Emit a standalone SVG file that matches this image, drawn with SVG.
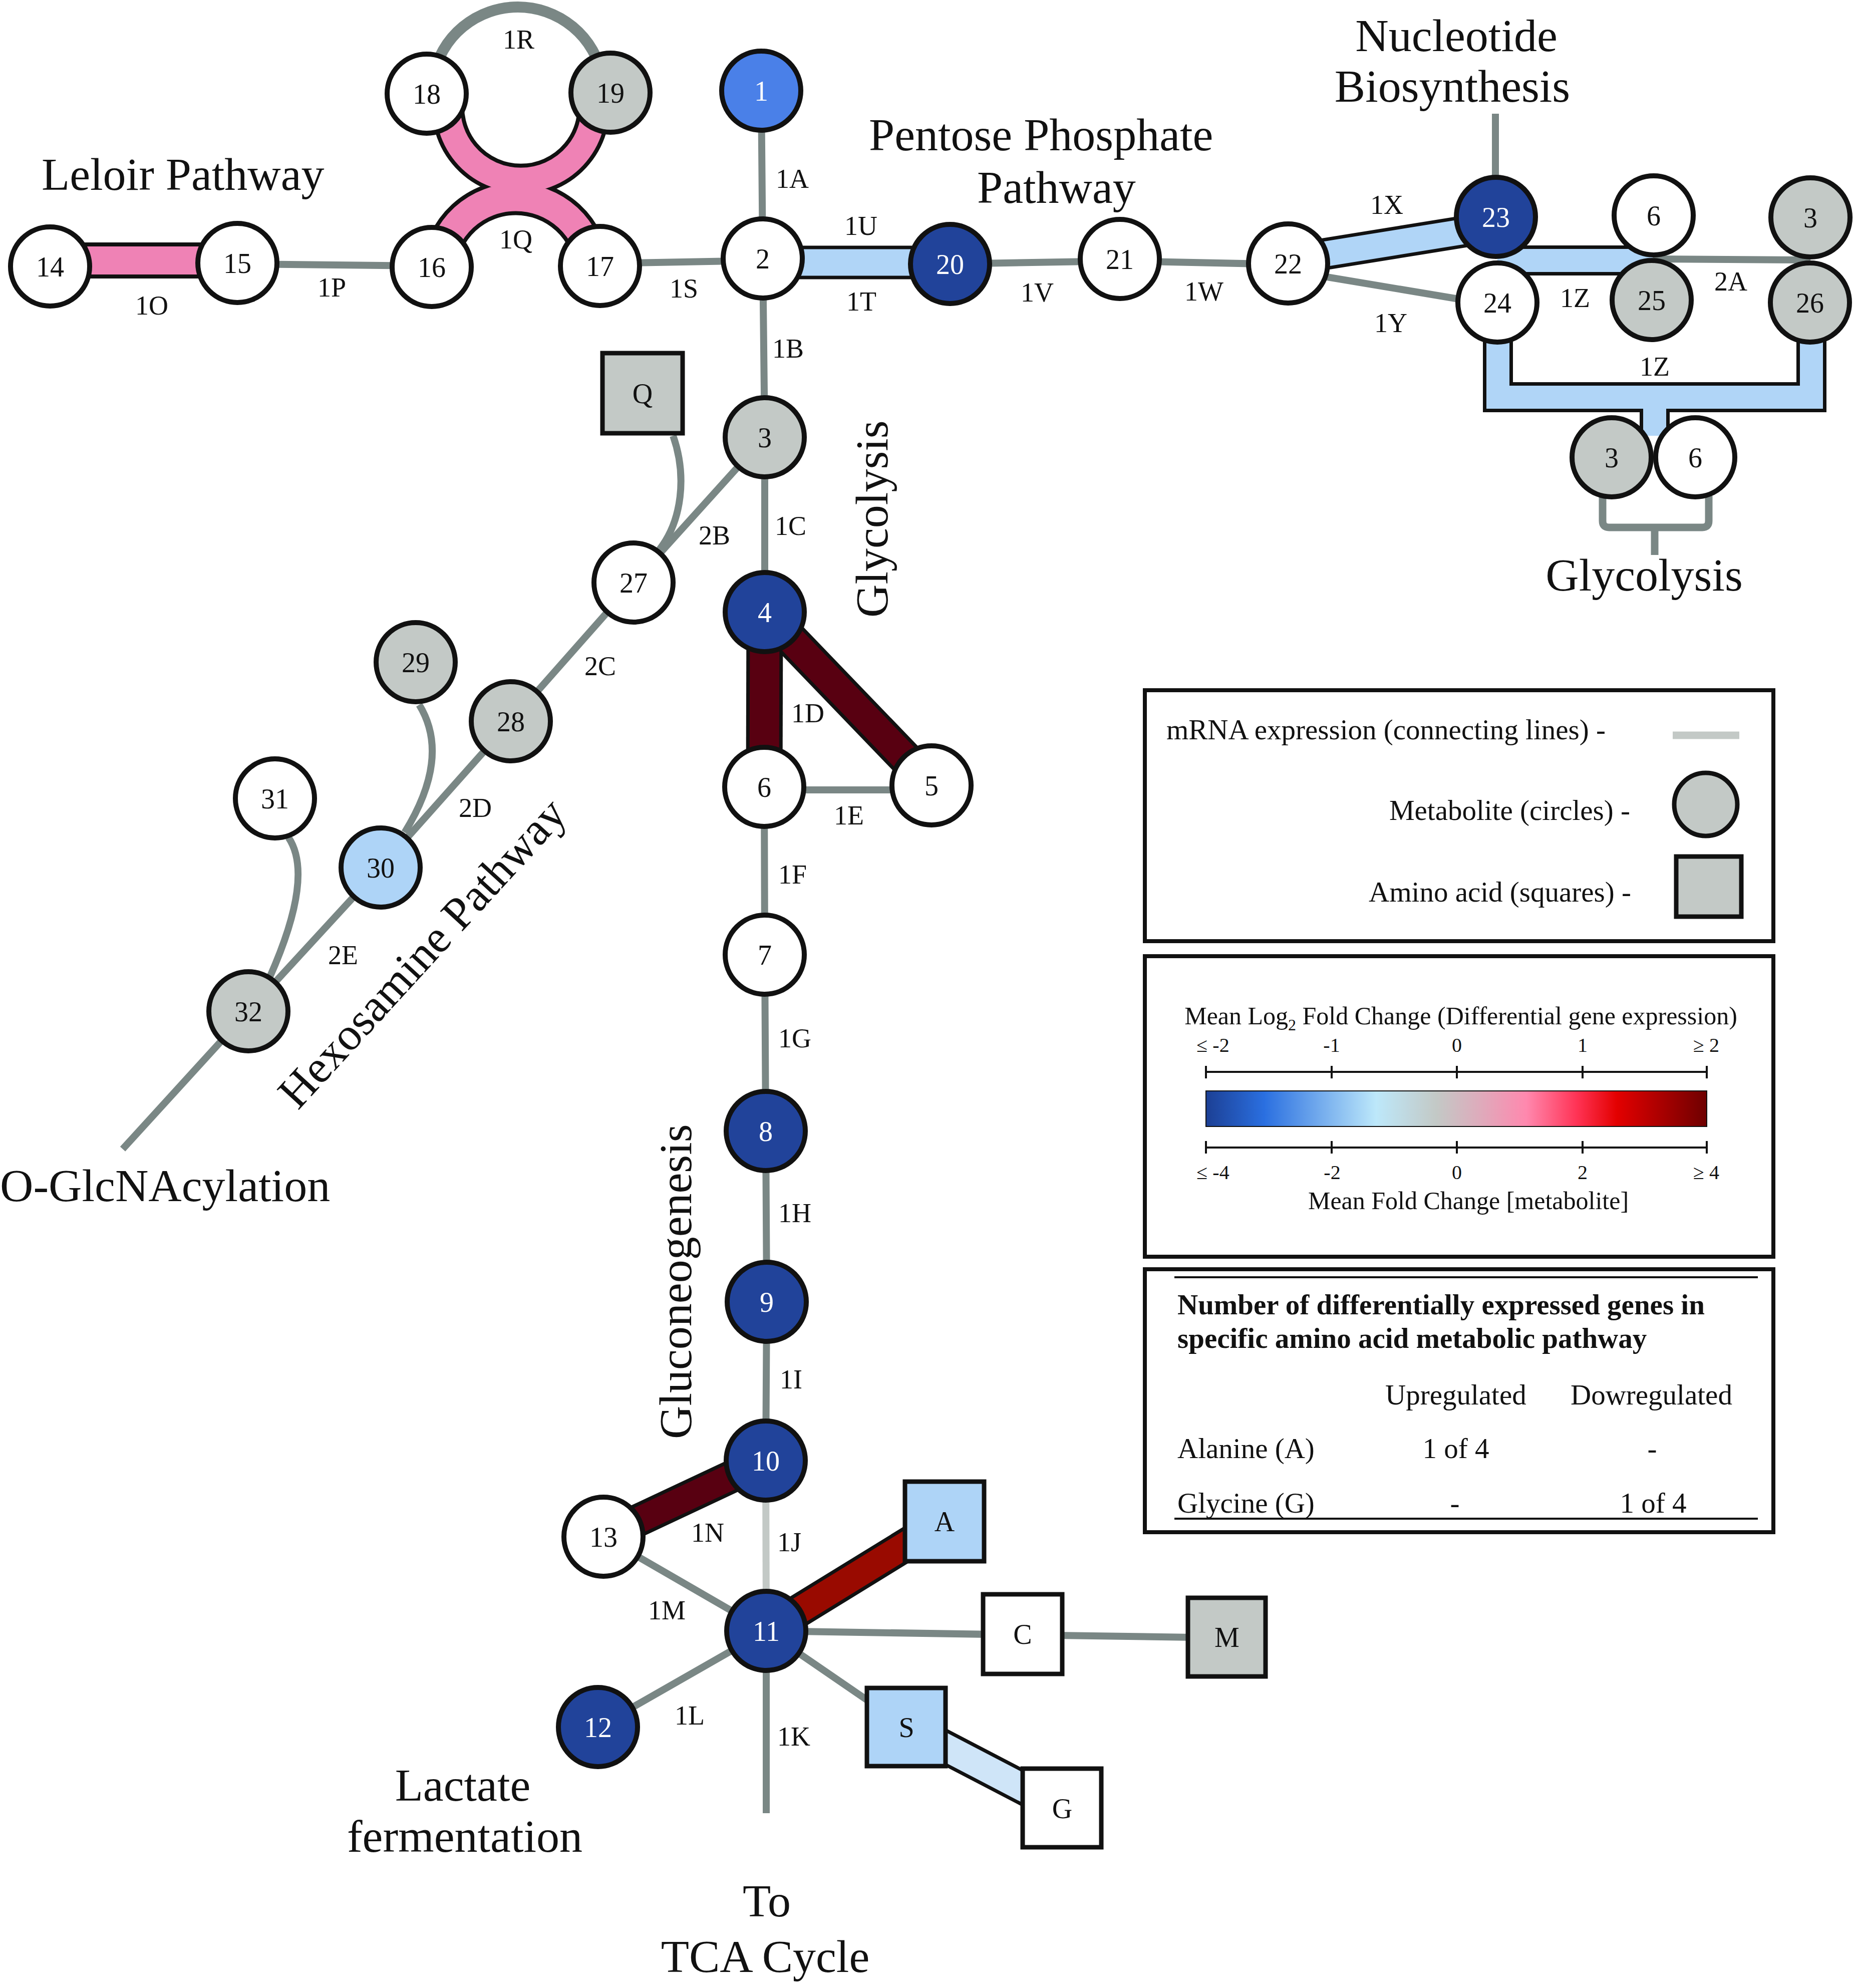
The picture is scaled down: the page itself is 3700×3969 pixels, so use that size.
<svg xmlns="http://www.w3.org/2000/svg" width="3700" height="3969" viewBox="0 0 3700 3969">
<defs>
<style>
text{font-family:"Liberation Serif","Times New Roman",serif;fill:#111}
.t{font-size:92px}
.lb{font-size:54px}
.nt{font-size:56px;text-anchor:middle}
.w{fill:#fff}
.lg{font-size:57px}
.tk{font-size:40px;text-anchor:middle}
.n{stroke:#111;stroke-width:10}
.sq{stroke:#111;stroke-width:9}
.wh{fill:#fff}.gy{fill:#c3c9c6}.db{fill:#21439a}.mb{fill:#4a80e8}.lbu{fill:#aed4f7}
.ln{stroke:#7a8785;stroke-width:14;fill:none}
.lt{stroke:#c3c9c6;stroke-width:14;fill:none}
.bk{stroke:#111;fill:none}
.box{fill:none;stroke:#111;stroke-width:8}
</style>
<linearGradient id="grad" x1="0" y1="0" x2="1" y2="0">
<stop offset="0" stop-color="#1c3f94"/>
<stop offset="0.116" stop-color="#2a6fe0"/>
<stop offset="0.34" stop-color="#bde8fa"/>
<stop offset="0.46" stop-color="#c3c9c6"/>
<stop offset="0.55" stop-color="#dfaabb"/>
<stop offset="0.64" stop-color="#ff88ae"/>
<stop offset="0.74" stop-color="#ff3355"/>
<stop offset="0.82" stop-color="#e30000"/>
<stop offset="1" stop-color="#6e0000"/>
</linearGradient>
</defs>
<rect width="3700" height="3969" fill="#fff"/>

<g id="connectors">
<!-- gray lines -->
<path class="ln" d="M1520 181 L1523 516 L1527 873 L1527 1222"/>
<path class="ln" d="M1526 1571 L1527 1906 L1529 2258 L1531 2599 L1529 2916"/>
<path class="lt" d="M1529 2916 L1530 3256"/>
<path class="ln" d="M1530 3256 L1530 3620"/>
<path class="ln" d="M1526 1577 L1860 1577"/>
<path class="ln" d="M474 527 L862 531"/>
<path class="ln" d="M1198 526 L1523 520"/>
<path class="ln" d="M1897 527 L2236 521 L2572 528"/>
<path class="ln" d="M2572 540 L2990 610"/>
<path class="ln" d="M2986 433 L2986 227"/>
<path class="ln" d="M3300 517 L3615 519"/>
<path class="ln" style="stroke-width:15" d="M3200 990 V1040 Q3200 1053 3213 1053 H3399 Q3412 1053 3412 1040 V990 M3304 1053 V1108"/>
<path class="ln" style="stroke-width:22" d="M865 154 A172 172 0 0 1 1203 154"/>
<path class="ln" d="M1527 873 L1265 1163 L1020 1440 L760 1732 L496 2019 L245 2294"/>
<path class="ln" d="M1344 870 C1372 950 1362 1040 1316 1098"/>
<path class="ln" d="M837 1407 Q901 1511 808 1662"/>
<path class="ln" d="M576 1672 Q628 1749 539 1950"/>
<path class="ln" d="M1530 3256 L1205 3068"/>
<path class="ln" d="M1530 3256 L1194 3448"/>
<path class="ln" d="M1530 3256 L2042 3264 L2450 3270"/>
<path class="ln" d="M1530 3256 L1810 3448"/>
<!-- bands: black outlines -->
<path class="bk" stroke-width="72" d="M100 520 L474 520"/>
<path class="bk" stroke-width="67" d="M1523 524 L1897 524"/>
<path class="bk" stroke-width="64" d="M2572 519 L2987 452"/>
<path class="bk" stroke-width="60" d="M2990 520 L3300 520"/>
<path class="bk" stroke-width="60" d="M2991 650 V793 H3617 V650 M3304 793 V870"/>
<path class="bk" stroke-width="73" d="M1527 1222 L1526 1571"/>
<path class="bk" stroke-width="70" d="M1527 1222 L1860 1568"/>
<path class="bk" stroke-width="66" d="M1529 2916 L1205 3068"/>
<path class="bk" stroke-width="67" d="M1530 3256 L1886 3037"/>
<path class="bk" stroke-width="68" d="M1810 3448 L2121 3610"/>
<path class="bk" stroke-width="65" d="M897 187 A145.5 145.5 0 1 0 1183 187"/>
<path class="bk" stroke-width="71" d="M877 535 A153.5 153.5 0 0 1 1183 535"/>
<!-- bands: fills -->
<path stroke="#ef82b5" fill="none" stroke-width="56" d="M100 520 L474 520"/>
<path stroke="#b0d5f7" fill="none" stroke-width="53" d="M1523 524 L1897 524"/>
<path stroke="#b0d5f7" fill="none" stroke-width="50" d="M2572 519 L2987 452"/>
<path stroke="#b0d5f7" fill="none" stroke-width="46" d="M2990 520 L3300 520"/>
<path stroke="#b0d5f7" fill="none" stroke-width="46" d="M2991 650 V793 H3617 V650 M3304 793 V870"/>
<path stroke="#580011" fill="none" stroke-width="59" d="M1527 1222 L1526 1571"/>
<path stroke="#580011" fill="none" stroke-width="56" d="M1527 1222 L1860 1568"/>
<path stroke="#580011" fill="none" stroke-width="52" d="M1529 2916 L1205 3068"/>
<path stroke="#990a00" fill="none" stroke-width="53" d="M1530 3256 L1886 3037"/>
<path stroke="#cfe5f8" fill="none" stroke-width="54" d="M1810 3448 L2121 3610"/>
<path stroke="#ef82b5" fill="none" stroke-width="49" d="M897 187 A145.5 145.5 0 1 0 1183 187"/>
<path stroke="#ef82b5" fill="none" stroke-width="55" d="M877 535 A153.5 153.5 0 0 1 1183 535"/>
</g>

<g id="edge-labels" class="lb">
<text x="270" y="628">1O</text>
<text x="634" y="592">1P</text>
<text x="997" y="496">1Q</text>
<text x="1004" y="97">1R</text>
<text x="1337" y="594">1S</text>
<text x="1549" y="375">1A</text>
<text x="1686" y="469">1U</text>
<text x="1690" y="620">1T</text>
<text x="2038" y="602">1V</text>
<text x="2365" y="600">1W</text>
<text x="2736" y="427">1X</text>
<text x="2744" y="663">1Y</text>
<text x="3115" y="613">1Z</text>
<text x="3423" y="580">2A</text>
<text x="3274" y="750">1Z</text>
<text x="1542" y="714">1B</text>
<text x="1547" y="1068">1C</text>
<text x="1395" y="1087">2B</text>
<text x="1167" y="1348">2C</text>
<text x="1580" y="1442">1D</text>
<text x="1665" y="1646">1E</text>
<text x="916" y="1631">2D</text>
<text x="655" y="1925">2E</text>
<text x="1554" y="1764">1F</text>
<text x="1554" y="2091">1G</text>
<text x="1554" y="2440">1H</text>
<text x="1557" y="2772">1I</text>
<text x="1380" y="3078">1N</text>
<text x="1552" y="3097">1J</text>
<text x="1294" y="3233">1M</text>
<text x="1347" y="3443">1L</text>
<text x="1552" y="3485">1K</text>
</g>

<g id="n14"><circle class="n wh" cx="100" cy="532" r="79"/><text class="nt" x="100" y="552">14</text></g>
<g id="n15"><circle class="n wh" cx="474" cy="525" r="79"/><text class="nt" x="474" y="545">15</text></g>
<g id="n16"><circle class="n wh" cx="862" cy="533" r="79"/><text class="nt" x="862" y="553">16</text></g>
<g id="n17"><circle class="n wh" cx="1198" cy="531" r="79"/><text class="nt" x="1198" y="551">17</text></g>
<g id="n18"><circle class="n wh" cx="852" cy="187" r="79"/><text class="nt" x="852" y="207">18</text></g>
<g id="n19"><circle class="n gy" cx="1219" cy="185" r="79"/><text class="nt" x="1219" y="205">19</text></g>
<g id="n1"><circle class="n mb" cx="1520" cy="181" r="79"/><text class="nt w" x="1520" y="201">1</text></g>
<g id="n2"><circle class="n wh" cx="1523" cy="516" r="79"/><text class="nt" x="1523" y="536">2</text></g>
<g id="n20"><circle class="n db" cx="1897" cy="527" r="79"/><text class="nt w" x="1897" y="547">20</text></g>
<g id="n21"><circle class="n wh" cx="2236" cy="517" r="79"/><text class="nt" x="2236" y="537">21</text></g>
<g id="n22"><circle class="n wh" cx="2572" cy="526" r="79"/><text class="nt" x="2572" y="546">22</text></g>
<g id="n23"><circle class="n db" cx="2987" cy="433" r="79"/><text class="nt w" x="2987" y="453">23</text></g>
<g id="n24"><circle class="n wh" cx="2990" cy="604" r="79"/><text class="nt" x="2990" y="624">24</text></g>
<g id="n6a"><circle class="n wh" cx="3302" cy="430" r="79"/><text class="nt" x="3302" y="450">6</text></g>
<g id="n25"><circle class="n gy" cx="3298" cy="599" r="79"/><text class="nt" x="3298" y="619">25</text></g>
<g id="n3a"><circle class="n gy" cx="3615" cy="434" r="79"/><text class="nt" x="3615" y="454">3</text></g>
<g id="n26"><circle class="n gy" cx="3614" cy="604" r="79"/><text class="nt" x="3614" y="624">26</text></g>
<g id="n3b"><circle class="n gy" cx="3218" cy="913" r="79"/><text class="nt" x="3218" y="933">3</text></g>
<g id="n6b"><circle class="n wh" cx="3385" cy="913" r="79"/><text class="nt" x="3385" y="933">6</text></g>
<g id="n3"><circle class="n gy" cx="1527" cy="873" r="79"/><text class="nt" x="1527" y="893">3</text></g>
<g id="nQ"><rect class="sq gy" x="1203" y="705" width="160" height="160"/><text class="nt" x="1283" y="805">Q</text></g>
<g id="n27"><circle class="n wh" cx="1265" cy="1163" r="79"/><text class="nt" x="1265" y="1183">27</text></g>
<g id="n4"><circle class="n db" cx="1527" cy="1222" r="79"/><text class="nt w" x="1527" y="1242">4</text></g>
<g id="n6"><circle class="n wh" cx="1526" cy="1571" r="79"/><text class="nt" x="1526" y="1591">6</text></g>
<g id="n5"><circle class="n wh" cx="1860" cy="1568" r="79"/><text class="nt" x="1860" y="1588">5</text></g>
<g id="n7"><circle class="n wh" cx="1527" cy="1906" r="79"/><text class="nt" x="1527" y="1926">7</text></g>
<g id="n8"><circle class="n db" cx="1529" cy="2258" r="79"/><text class="nt w" x="1529" y="2278">8</text></g>
<g id="n9"><circle class="n db" cx="1531" cy="2599" r="79"/><text class="nt w" x="1531" y="2619">9</text></g>
<g id="n10"><circle class="n db" cx="1529" cy="2916" r="79"/><text class="nt w" x="1529" y="2936">10</text></g>
<g id="n13"><circle class="n wh" cx="1205" cy="3068" r="79"/><text class="nt" x="1205" y="3088">13</text></g>
<g id="n11"><circle class="n db" cx="1530" cy="3256" r="79"/><text class="nt w" x="1530" y="3276">11</text></g>
<g id="n12"><circle class="n db" cx="1194" cy="3448" r="79"/><text class="nt w" x="1194" y="3468">12</text></g>
<g id="nA"><rect class="sq lbu" x="1807" y="2958" width="158" height="159"/><text class="nt" x="1886" y="3057">A</text></g>
<g id="nC"><rect class="sq wh" x="1963" y="3183" width="158" height="159"/><text class="nt" x="2042" y="3282">C</text></g>
<g id="nM"><rect class="sq gy" x="2372" y="3190" width="155" height="157"/><text class="nt" x="2450" y="3288">M</text></g>
<g id="nS"><rect class="sq lbu" x="1731" y="3370" width="157" height="156"/><text class="nt" x="1810" y="3468">S</text></g>
<g id="nG"><rect class="sq wh" x="2042" y="3531" width="157" height="157"/><text class="nt" x="2121" y="3630">G</text></g>
<g id="n28"><circle class="n gy" cx="1020" cy="1440" r="79"/><text class="nt" x="1020" y="1460">28</text></g>
<g id="n29"><circle class="n gy" cx="830" cy="1322" r="79"/><text class="nt" x="830" y="1342">29</text></g>
<g id="n30"><circle class="n lbu" cx="760" cy="1732" r="79"/><text class="nt" x="760" y="1752">30</text></g>
<g id="n31"><circle class="n wh" cx="549" cy="1594" r="79"/><text class="nt" x="549" y="1614">31</text></g>
<g id="n32"><circle class="n gy" cx="496" cy="2019" r="79"/><text class="nt" x="496" y="2039">32</text></g>

<g id="titles" class="t">
<text x="83" y="379">Leloir Pathway</text>
<text x="1735" y="300">Pentose Phosphate</text>
<text x="1951" y="405">Pathway</text>
<text x="2908" y="102" text-anchor="middle">Nucleotide</text>
<text x="2900" y="203" text-anchor="middle">Biosynthesis</text>
<text x="3283" y="1179" text-anchor="middle">Glycolysis</text>
<text transform="translate(1772 1233) rotate(-90)">Glycolysis</text>
<text transform="translate(1380 2873) rotate(-90)">Gluconeogenesis</text>
<text transform="translate(595 2218) rotate(-47.5)">Hexosamine Pathway</text>
<text x="0" y="2398">O-GlcNAcylation</text>
<text x="924" y="3595" text-anchor="middle">Lactate</text>
<text x="928" y="3697" text-anchor="middle">fermentation</text>
<text x="1531" y="3826" text-anchor="middle">To</text>
<text x="1528" y="3937" text-anchor="middle">TCA Cycle</text>
</g>

<g id="legend-symbols">
<rect class="box" x="2286" y="1378" width="1255" height="501"/>
<text class="lg" x="2329" y="1476">mRNA expression (connecting lines) -</text>
<line x1="3340" y1="1468" x2="3473" y2="1468" stroke="#c3c9c6" stroke-width="15"/>
<text class="lg" x="3255" y="1637" text-anchor="end">Metabolite (circles) -</text>
<circle class="gy" cx="3406" cy="1606" r="63" stroke="#111" stroke-width="9"/>
<text class="lg" x="3257" y="1800" text-anchor="end">Amino acid (squares) -</text>
<rect class="gy" x="3347" y="1710" width="130" height="120" stroke="#111" stroke-width="9"/>
</g>

<g id="legend-scale">
<rect class="box" x="2286" y="1909" width="1255" height="600"/>
<text x="2917" y="2045" text-anchor="middle" style="font-size:50px">Mean Log<tspan style="font-size:32px" dy="12">2</tspan><tspan dy="-12"> Fold Change (Differential gene expression)</tspan></text>
<text class="tk" x="2422" y="2100">≤ -2</text>
<text class="tk" x="2659" y="2100">-1</text>
<text class="tk" x="2909" y="2100">0</text>
<text class="tk" x="3160" y="2100">1</text>
<text class="tk" x="3407" y="2100">≥ 2</text>
<path stroke="#111" stroke-width="4" fill="none" d="M2408 2140 H3408 M2408 2128 V2153 M2659 2128 V2153 M2909 2128 V2153 M3160 2128 V2153 M3408 2128 V2153"/>
<rect x="2408" y="2178" width="1000" height="71" fill="url(#grad)" stroke="#111" stroke-width="2"/>
<path stroke="#111" stroke-width="4" fill="none" d="M2408 2291 H3408 M2408 2278 V2303 M2659 2278 V2303 M2909 2278 V2303 M3160 2278 V2303 M3408 2278 V2303"/>
<text class="tk" x="2422" y="2354">≤ -4</text>
<text class="tk" x="2660" y="2354">-2</text>
<text class="tk" x="2909" y="2354">0</text>
<text class="tk" x="3160" y="2354">2</text>
<text class="tk" x="3407" y="2354">≥ 4</text>
<text x="2932" y="2414" text-anchor="middle" style="font-size:50px">Mean Fold Change [metabolite]</text>
</g>

<g id="legend-table">
<rect class="box" x="2286" y="2534" width="1255" height="525"/>
<line x1="2345" y1="2550" x2="3510" y2="2550" stroke="#111" stroke-width="4"/>
<text x="2351" y="2624" style="font-size:57px;font-weight:bold">Number of differentially expressed genes in</text>
<text x="2351" y="2691" style="font-size:57px;font-weight:bold">specific amino acid metabolic pathway</text>
<text class="lg" x="2766" y="2804">Upregulated</text>
<text class="lg" x="3136" y="2804">Dowregulated</text>
<text class="lg" x="2351" y="2911">Alanine (A)</text>
<text class="lg" x="2907" y="2911" text-anchor="middle">1 of 4</text>
<text class="lg" x="3299" y="2911" text-anchor="middle">-</text>
<text class="lg" x="2351" y="3020">Glycine (G)</text>
<text class="lg" x="2905" y="3020" text-anchor="middle">-</text>
<text class="lg" x="3301" y="3020" text-anchor="middle">1 of 4</text>
<line x1="2345" y1="3032" x2="3510" y2="3032" stroke="#111" stroke-width="4"/>
</g>
</svg>
